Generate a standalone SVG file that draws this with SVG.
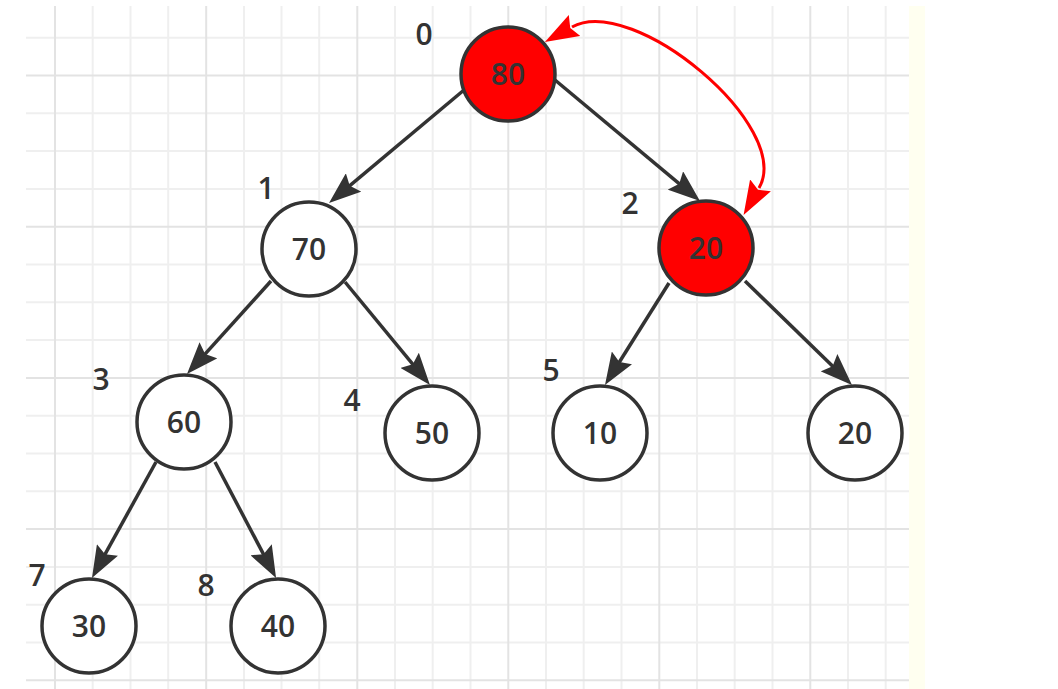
<svg xmlns="http://www.w3.org/2000/svg" width="1058" height="689" viewBox="0 0 1058 689">
<style>
.minor{stroke:#efefef;stroke-width:2}
.major{stroke:#e3e3e3;stroke-width:2}
.node circle{stroke:#333;stroke-width:3.5}
.white circle{fill:#fff}
.red circle{fill:#ff0000}
.t{font-family:"Open Sans","Liberation Sans",sans-serif;font-weight:600;font-size:30px;fill:#333;text-anchor:middle}
.edge{stroke:#333;stroke-width:3.5;fill:none;marker-end:url(#ah)}
.swap{stroke:#ff0000;stroke-width:3;fill:none;marker-start:url(#ahr);marker-end:url(#ahr)}
</style>
<defs>
<marker id="ah" viewBox="0 0 32 24" refX="22" refY="12" markerWidth="32" markerHeight="24" markerUnits="userSpaceOnUse" orient="auto">
<path d="M0,0 L32,12 L0,24 L5,12 z" fill="#333"/>
</marker>
<marker id="ahr" viewBox="0 0 34 24" refX="3" refY="12" markerWidth="34" markerHeight="24" markerUnits="userSpaceOnUse" orient="auto-start-reverse">
<path d="M0,0 L34,12 L0,24 L5,12 z" fill="#ff0000"/>
</marker>
</defs>
<rect width="1058" height="689" fill="#fff"/>
<g id="grid">
<rect x="26" y="6" width="883" height="683" fill="#fff"/>
<rect x="909" y="6" width="16" height="683" fill="#fffff0"/>
<g class="minor">
<line x1="92.7" y1="6" x2="92.7" y2="689"/><line x1="130.5" y1="6" x2="130.5" y2="689"/><line x1="168.2" y1="6" x2="168.2" y2="689"/>
<line x1="244" y1="6" x2="244" y2="689"/><line x1="281.5" y1="6" x2="281.5" y2="689"/><line x1="319.2" y1="6" x2="319.2" y2="689"/>
<line x1="395" y1="6" x2="395" y2="689"/><line x1="432.7" y1="6" x2="432.7" y2="689"/><line x1="470.5" y1="6" x2="470.5" y2="689"/>
<line x1="546" y1="6" x2="546" y2="689"/><line x1="583.7" y1="6" x2="583.7" y2="689"/><line x1="621.5" y1="6" x2="621.5" y2="689"/>
<line x1="697" y1="6" x2="697" y2="689"/><line x1="734.7" y1="6" x2="734.7" y2="689"/><line x1="772.5" y1="6" x2="772.5" y2="689"/>
<line x1="848" y1="6" x2="848" y2="689"/><line x1="885.7" y1="6" x2="885.7" y2="689"/>
<line x1="26" y1="37.7" x2="909" y2="37.7"/><line x1="26" y1="113.3" x2="909" y2="113.3"/><line x1="26" y1="151.1" x2="909" y2="151.1"/><line x1="26" y1="188.9" x2="909" y2="188.9"/>
<line x1="26" y1="264.5" x2="909" y2="264.5"/><line x1="26" y1="302.3" x2="909" y2="302.3"/><line x1="26" y1="340.1" x2="909" y2="340.1"/>
<line x1="26" y1="415.7" x2="909" y2="415.7"/><line x1="26" y1="453.5" x2="909" y2="453.5"/><line x1="26" y1="491.3" x2="909" y2="491.3"/>
<line x1="26" y1="566.9" x2="909" y2="566.9"/><line x1="26" y1="604.7" x2="909" y2="604.7"/><line x1="26" y1="642.5" x2="909" y2="642.5"/>
</g>
<g class="major">
<line x1="55" y1="6" x2="55" y2="689"/><line x1="206.2" y1="6" x2="206.2" y2="689"/><line x1="357.3" y1="6" x2="357.3" y2="689"/>
<line x1="508.3" y1="6" x2="508.3" y2="689"/><line x1="659.3" y1="6" x2="659.3" y2="689"/><line x1="810.3" y1="6" x2="810.3" y2="689"/>
<line x1="26" y1="75.5" x2="909" y2="75.5"/><line x1="26" y1="226.7" x2="909" y2="226.7"/><line x1="26" y1="377.9" x2="909" y2="377.9"/>
<line x1="26" y1="529.1" x2="909" y2="529.1"/><line x1="26" y1="680.3" x2="909" y2="680.3"/>
</g>
</g>
<g id="connectors">
<line class="edge" x1="464" y1="90" x2="336.7" y2="196.6"/>
<line class="edge" x1="555" y1="80" x2="692.3" y2="194.6"/>
<line class="edge" x1="271" y1="281" x2="193.7" y2="366.6"/>
<line class="edge" x1="345" y1="282" x2="423.6" y2="377.3"/>
<line class="edge" x1="669" y1="283" x2="610.3" y2="376.5"/>
<line class="edge" x1="745" y1="281" x2="844.8" y2="378"/>
<line class="edge" x1="156" y1="462" x2="96.8" y2="569.2"/>
<line class="edge" x1="215" y1="462" x2="271.4" y2="569.2"/>
<path class="swap" d="M572,27 C633,-7 794,127 759,188"/>
</g>
<g id="n0" class="node red"><circle cx="508" cy="74" r="47"/><text class="t" x="508" y="85">80</text></g>
<g id="n1" class="node white"><circle cx="309" cy="249" r="47"/><text class="t" x="309" y="260">70</text></g>
<g id="n2" class="node red"><circle cx="706" cy="248" r="47"/><text class="t" x="706" y="259">20</text></g>
<g id="n3" class="node white"><circle cx="184" cy="422" r="47"/><text class="t" x="184" y="433">60</text></g>
<g id="n4" class="node white"><circle cx="432" cy="433" r="47"/><text class="t" x="432" y="444">50</text></g>
<g id="n5" class="node white"><circle cx="600" cy="433" r="47"/><text class="t" x="600" y="444">10</text></g>
<g id="n6" class="node white"><circle cx="855" cy="433" r="47"/><text class="t" x="855" y="444">20</text></g>
<g id="n7" class="node white"><circle cx="89" cy="626" r="47"/><text class="t" x="89" y="637">30</text></g>
<g id="n8" class="node white"><circle cx="278" cy="626" r="47"/><text class="t" x="278" y="637">40</text></g>
<g id="labels">
<text class="t" x="424" y="45">0</text>
<text class="t" x="266" y="199">1</text>
<text class="t" x="630" y="214">2</text>
<text class="t" x="101" y="390">3</text>
<text class="t" x="352" y="411">4</text>
<text class="t" x="551" y="381">5</text>
<text class="t" x="37" y="586">7</text>
<text class="t" x="206" y="596">8</text>
</g>
</svg>
